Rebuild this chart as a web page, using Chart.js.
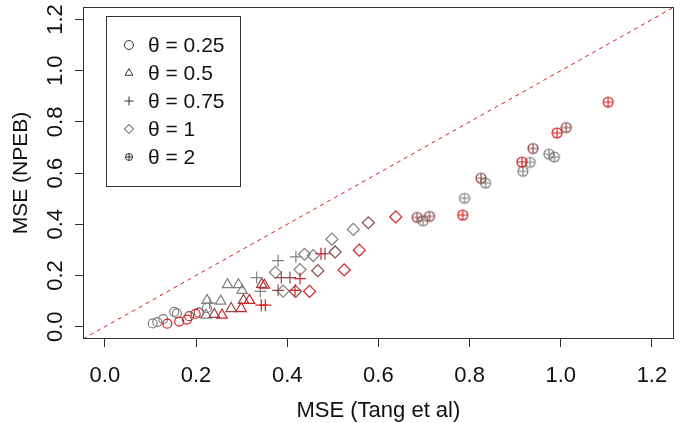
<!DOCTYPE html>
<html>
<head>
<meta charset="utf-8">
<script src="https://cdn.jsdelivr.net/npm/chart.js@4.4.1/dist/chart.umd.min.js"></script>
<style>
  body { margin: 0; background: #fff; }
</style>
</head>
<body>
<canvas id="mse" width="681" height="423"></canvas>
<script>
const thetaLabels = ["θ = 0.25", "θ = 0.5", "θ = 0.75", "θ = 1", "θ = 2"];
const tickValues = [0, 0.2, 0.4, 0.6, 0.8, 1.0, 1.2];
const axisMin = -0.048, axisMax = 1.248;

// group per point: 0 = gray, 1 = brown, 2 = red
const t025X = [0.105, 0.115, 0.128, 0.152, 0.158, 0.224, 0.185, 0.206, 0.137, 0.163, 0.180, 0.199];
const t025Y = [0.013, 0.018, 0.030, 0.058, 0.052, 0.073, 0.041, 0.055, 0.012, 0.020, 0.028, 0.050];
const t025G = [0, 0, 0, 0, 0, 0, 1, 1, 2, 2, 2, 2];

const t05X = [0.224, 0.254, 0.269, 0.293, 0.301, 0.222, 0.240, 0.277, 0.304, 0.344, 0.257, 0.299, 0.317, 0.350];
const t05Y = [0.103, 0.100, 0.164, 0.164, 0.142, 0.045, 0.048, 0.071, 0.103, 0.165, 0.045, 0.071, 0.103, 0.162];
const t05G = [0, 0, 0, 0, 0, 0, 1, 1, 1, 1, 2, 2, 2, 2];

const t075X = [0.380, 0.419, 0.333, 0.341, 0.230, 0.483, 0.387, 0.406, 0.380, 0.474, 0.428, 0.417, 0.343, 0.352];
const t075Y = [0.258, 0.273, 0.192, 0.138, 0.092, 0.285, 0.192, 0.192, 0.142, 0.285, 0.188, 0.142, 0.084, 0.084];
const t075G = [0, 0, 0, 0, 0, 1, 1, 1, 1, 2, 2, 2, 2, 2];

const t1X = [0.545, 0.498, 0.438, 0.457, 0.374, 0.428, 0.391, 0.578, 0.505, 0.467, 0.418, 0.638, 0.558, 0.525, 0.449];
const t1Y = [0.380, 0.342, 0.283, 0.278, 0.212, 0.223, 0.139, 0.406, 0.292, 0.219, 0.138, 0.429, 0.299, 0.222, 0.138];
const t1G = [0, 0, 0, 0, 0, 0, 0, 1, 1, 1, 1, 2, 2, 2, 2];

const t2X = [0.974, 0.986, 0.933, 0.917, 0.835, 0.789, 0.698, 1.012, 0.939, 0.825, 0.685, 0.712, 1.104, 0.992, 0.915, 0.785];
const t2Y = [0.674, 0.663, 0.642, 0.607, 0.561, 0.502, 0.414, 0.778, 0.696, 0.580, 0.427, 0.431, 0.877, 0.757, 0.643, 0.436];
const t2G = [0, 0, 0, 0, 0, 0, 0, 1, 1, 1, 1, 1, 2, 2, 2, 2];

const groupColors = ["#808080", "#8e4a4a", "#d42222"];
const font = "'Liberation Sans', Arial, sans-serif";

// R pch 10: circle with a plus inside
function circlePlus(color, r, lw) {
  const size = Math.ceil(2 * r + lw + 2);
  const c = document.createElement("canvas");
  c.width = c.height = size;
  const g = c.getContext("2d");
  const m = size / 2;
  g.strokeStyle = color;
  g.lineWidth = lw;
  g.beginPath();
  g.arc(m, m, r, 0, 2 * Math.PI);
  g.moveTo(m - r, m); g.lineTo(m + r, m);
  g.moveTo(m, m - r); g.lineTo(m, m + r);
  g.stroke();
  return c;
}
const plusImgs = groupColors.map(c => circlePlus(c, 5, 1.2));

function pts(xs, ys) {
  return xs.map((x, i) => ({ x: x, y: ys[i] }));
}

function series(label, xs, ys, grp, style, radius) {
  const cols = grp.map(g => groupColors[g]);
  return {
    type: "scatter",
    label: label,
    data: pts(xs, ys),
    pointStyle: style === "cplus" ? grp.map(g => plusImgs[g]) : style,
    pointRadius: radius,
    pointHoverRadius: radius,
    pointBorderColor: cols,
    pointBackgroundColor: "rgba(0,0,0,0)",
    pointBorderWidth: 1.2
  };
}

const datasets = [
  {
    type: "line",
    label: "y = x",
    data: [{ x: axisMin, y: axisMin }, { x: axisMax, y: axisMax }],
    borderColor: "#d42222",
    borderWidth: 1,
    borderDash: [4, 4],
    pointRadius: 0
  },
  series(thetaLabels[0], t025X, t025Y, t025G, "circle", 4.5),
  series(thetaLabels[1], t05X, t05Y, t05G, "triangle", 6),
  series(thetaLabels[2], t075X, t075Y, t075G, "cross", 6),
  series(thetaLabels[3], t1X, t1Y, t1G, "rectRot", 6),
  series(thetaLabels[4], t2X, t2Y, t2G, "cplus", 5)
];

// box round the plot, rotated y labels, R style legend
const boxPlugin = {
  id: "rbox",
  afterDatasetsDraw(chart) {
    const a = chart.chartArea;
    const ctx = chart.ctx;
    ctx.save();
    ctx.strokeStyle = "#333";
    ctx.lineWidth = 1;
    ctx.strokeRect(Math.round(a.left) + 0.5, Math.round(a.top) + 0.5,
      Math.round(a.right - a.left) - 1, Math.round(a.bottom - a.top) - 1);

    // y tick labels, parallel to the axis like R
    const ys = chart.scales.y;
    ctx.fillStyle = "#111";
    ctx.font = "22px " + font;
    ctx.textAlign = "center";
    ctx.textBaseline = "middle";
    tickValues.forEach(v => {
      ctx.save();
      ctx.translate(56, ys.getPixelForValue(v));
      ctx.rotate(-Math.PI / 2);
      ctx.fillText(v.toFixed(1), 0, 0);
      ctx.restore();
    });

    // legend
    ctx.strokeRect(106.5, 16.5, 134, 170);
    const styles = ["circle", "triangle", "cross", "rectRot", null];
    const legPlus = circlePlus("#333", 3.5, 1);
    ctx.font = "21px " + font;
    ctx.textAlign = "left";
    thetaLabels.forEach((t, i) => {
      const y = 45 + i * 28;
      ctx.strokeStyle = "#333";
      ctx.fillStyle = "rgba(0,0,0,0)";
      ctx.lineWidth = 1;
      if (styles[i]) {
        Chart.helpers.drawPoint(ctx, { pointStyle: styles[i], radius: 4.5, borderWidth: 1 }, 129, y);
      } else {
        ctx.drawImage(legPlus, 129 - legPlus.width / 2, y - legPlus.height / 2);
      }
      ctx.fillStyle = "#111";
      ctx.fillText(t, 148, y + 1);
    });
    ctx.restore();
  }
};

const fixTicks = s => { s.ticks = tickValues.map(v => ({ value: v })); };

new Chart(document.getElementById("mse"), {
  data: { datasets: datasets },
  options: {
    responsive: false,
    animation: false,
    layout: { padding: { top: 3, right: 0, left: 0, bottom: 0 } },
    plugins: { legend: { display: false }, tooltip: { enabled: false } },
    scales: {
      x: {
        type: "linear",
        min: axisMin,
        max: axisMax,
        afterBuildTicks: fixTicks,
        afterFit: s => { s.height = 84; s.paddingLeft = 0; s.paddingRight = 0; },
        grid: { drawOnChartArea: false, tickLength: 8, tickColor: "#333" },
        border: { display: false },
        ticks: {
          color: "#111", font: { size: 22, family: font }, padding: 16,
          maxRotation: 0, minRotation: 0, autoSkip: false,
          callback: v => Number(v).toFixed(1)
        },
        title: { display: true, text: "MSE (Tang et al)", color: "#111", font: { size: 22, family: font }, padding: { top: 0, bottom: -1 } }
      },
      y: {
        type: "linear",
        min: axisMin,
        max: axisMax,
        afterBuildTicks: fixTicks,
        afterFit: s => { s.width = 83; s.paddingTop = 0; s.paddingBottom = 0; },
        grid: { drawOnChartArea: false, tickLength: 8, tickColor: "#333" },
        border: { display: false },
        ticks: {
          color: "rgba(0,0,0,0)", font: { size: 22, family: font }, padding: 8,
          autoSkip: false,
          callback: v => Number(v).toFixed(1)
        },
        title: { display: true, text: "MSE (NPEB)", color: "#111", font: { size: 21, family: font }, padding: { top: 9, bottom: 0 } }
      }
    }
  },
  plugins: [boxPlugin]
});
</script>
</body>
</html>
